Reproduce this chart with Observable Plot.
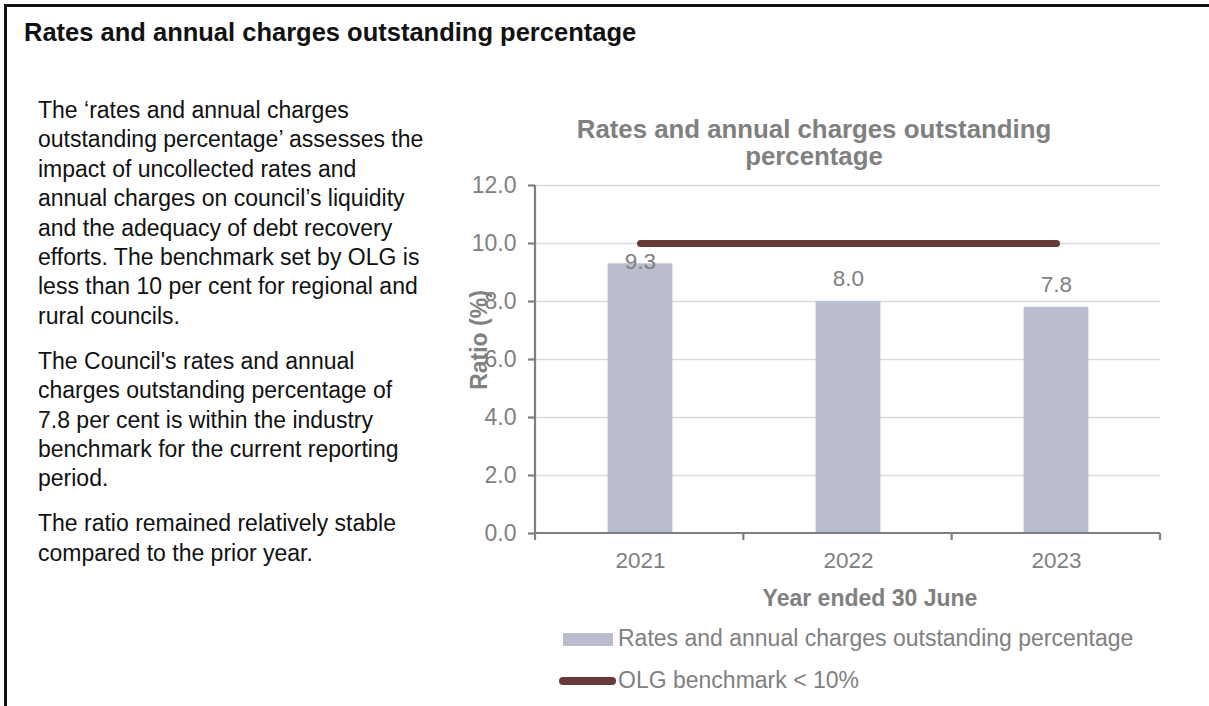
<!DOCTYPE html>
<html>
<head>
<meta charset="utf-8">
<script src="https://cdn.jsdelivr.net/npm/d3@7"></script>
<script src="https://cdn.jsdelivr.net/npm/@observablehq/plot@0.6"></script>
<style>
  html, body { margin: 0; padding: 0; background: #fff; }
  body { width: 1209px; height: 706px; position: relative; overflow: hidden;
         font-family: "Liberation Sans", Arial, Helvetica, sans-serif; }
  .abs { position: absolute; white-space: nowrap; }
  #chart { position: absolute; left: 0; top: 0; }
  #bt { position: absolute; left: 4px; top: 4px; width: 1205px; height: 3px; background: #111; }
  #bl { position: absolute; left: 4px; top: 4px; width: 3px; height: 702px; background: #111; }
  #title { left: 24px; top: 17px; font-size: 25.5px; line-height: 30px; font-weight: bold; color: #111; }
  #para { position: absolute; left: 38px; top: 96px; font-size: 23px; line-height: 29.4px; color: #111; white-space: nowrap; }
  #para p { margin: 0 0 15.6px 0; }
  #ctitle { left: 814px; top: 116px; transform: translateX(-50%); text-align: center;
            font-size: 25.8px; line-height: 27px; font-weight: bold; color: #808080; }
  #ylab { left: 479px; top: 340px; transform: translate(-50%, -50%) rotate(-90deg);
          font-size: 23px; line-height: 23px; font-weight: bold; color: #808080; }
  #xlab { left: 870px; top: 587px; transform: translateX(-50%);
          font-size: 23px; line-height: 23px; font-weight: bold; color: #808080; }
  .legtext { font-size: 23px; line-height: 23px; color: #808080; }
</style>
</head>
<body>
<div id="chart"></div>
<div id="bt"></div>
<div id="bl"></div>
<div id="title" class="abs"></div>
<div id="para"></div>
<div id="ctitle" class="abs"></div>
<div id="ylab" class="abs"></div>
<div id="xlab" class="abs"></div>
<div id="legend"></div>
<script>
// ---- data ----
const years = ["2021", "2022", "2023"];
const ratios = [9.3, 8.0, 7.8];
const benchmark = 10;
const yTicks = [0, 2, 4, 6, 8, 10, 12];
const pageTitle = "Rates and annual charges outstanding percentage";
const chartTitleLines = ["Rates and annual charges outstanding", "percentage"];
const yLabel = "Ratio (%)";
const xLabel = "Year ended 30 June";
const seriesName = "Rates and annual charges outstanding percentage";
const benchmarkName = "OLG benchmark < 10%";
const paragraphs = [
  ["The \u2018rates and annual charges", "outstanding percentage\u2019 assesses the", "impact of uncollected rates and",
   "annual charges on council\u2019s liquidity", "and the adequacy of debt recovery",
   "efforts. The benchmark set by OLG is", "less than 10 per cent for regional and", "rural councils."],
  ["The Council's rates and annual", "charges outstanding percentage of", "7.8 per cent is within the industry",
   "benchmark for the current reporting", "period."],
  ["The ratio remained relatively stable", "compared to the prior year."]
];

// ---- styles ----
const barColor = "#b9bdcd";
const lineColor = "#673a3b";
const axisColor = "#7f7f7f";
const textGray = "#808080";
const labelDy = [-2, -23, -23];

const data = years.map((year, i) => ({year, value: ratios[i], i}));

// ---- text ----
document.getElementById("title").textContent = pageTitle;
const para = document.getElementById("para");
for (const lines of paragraphs) {
  const p = document.createElement("p");
  lines.forEach((l, k) => {
    if (k) p.appendChild(document.createElement("br"));
    p.appendChild(document.createTextNode(l));
  });
  para.appendChild(p);
}
const ct = document.getElementById("ctitle");
chartTitleLines.forEach((l, k) => { if (k) ct.appendChild(document.createElement("br")); ct.appendChild(document.createTextNode(l)); });
document.getElementById("ylab").textContent = yLabel;
document.getElementById("xlab").textContent = xLabel;

// ---- legend ----
const legend = document.getElementById("legend");
legend.innerHTML = `
  <div class="abs" style="left:563px;top:633px;width:50px;height:13px;background:${barColor}"></div>
  <div class="abs legtext" style="left:618px;top:627px">${seriesName}</div>
  <div class="abs" style="left:559px;top:677px;width:57px;height:8px;border-radius:4px;background:${lineColor}"></div>
  <div class="abs legtext" style="left:618px;top:669px">${benchmarkName.replace("<", "&lt;")}</div>
`;

// ---- chart ----
const axisLines = (index, scales, values, dim) => {
  const g = d3.create("svg:g").attr("stroke", axisColor).attr("stroke-width", 2.2).attr("fill", "none");
  const L = dim.marginLeft, R = dim.width - dim.marginRight;
  const T = dim.marginTop, B = dim.height - dim.marginBottom;
  const n = years.length, step = (R - L) / n;
  g.append("line").attr("x1", L).attr("x2", L).attr("y1", T).attr("y2", B + 7);
  g.append("line").attr("x1", L).attr("x2", R).attr("y1", B).attr("y2", B);
  for (let k = 1; k <= n; k++) {
    g.append("line").attr("x1", L + k * step).attr("x2", L + k * step).attr("y1", B).attr("y2", B + 7);
  }
  return g.node();
};

const chart = Plot.plot({
  width: 1209,
  height: 706,
  marginLeft: 535,
  marginRight: 49,
  marginTop: 185,
  marginBottom: 173,
  x: {type: "band", domain: years, padding: 0},
  y: {domain: [0, 12]},
  style: {background: "transparent", fontFamily: "'Liberation Sans', Arial, sans-serif", fontSize: "22px", overflow: "visible"},
  marks: [
    Plot.gridY(yTicks.filter(d => d > 0), {stroke: "#d9d9d9", strokeOpacity: 1, strokeWidth: 1.6}),
    Plot.barY(data, {x: "year", y: "value", fill: barColor, insetLeft: 71.6, insetRight: 71.6}),
    Plot.line(data, {x: "year", y: () => benchmark, stroke: lineColor, strokeWidth: 7, strokeLinecap: "round"}),
    Plot.text(data.filter(d => d.i === 0), {x: "year", y: "value", text: d => d.value.toFixed(1), dy: labelDy[0], fill: textGray, fontSize: 22.5}),
    Plot.text(data.filter(d => d.i > 0), {x: "year", y: "value", text: d => d.value.toFixed(1), dy: labelDy[1], fill: textGray, fontSize: 22.5}),
    Plot.axisY({ticks: yTicks, tickFormat: d => d.toFixed(1), tickSize: 7, tickPadding: 12, stroke: axisColor, strokeWidth: 2.2, fill: textGray, fontSize: 23, label: null}),
    Plot.axisX({tickSize: 0, tickPadding: 19, fill: textGray, fontSize: 22.5, label: null}),
    axisLines
  ]
});
document.getElementById("chart").appendChild(chart);
</script>
</body>
</html>
